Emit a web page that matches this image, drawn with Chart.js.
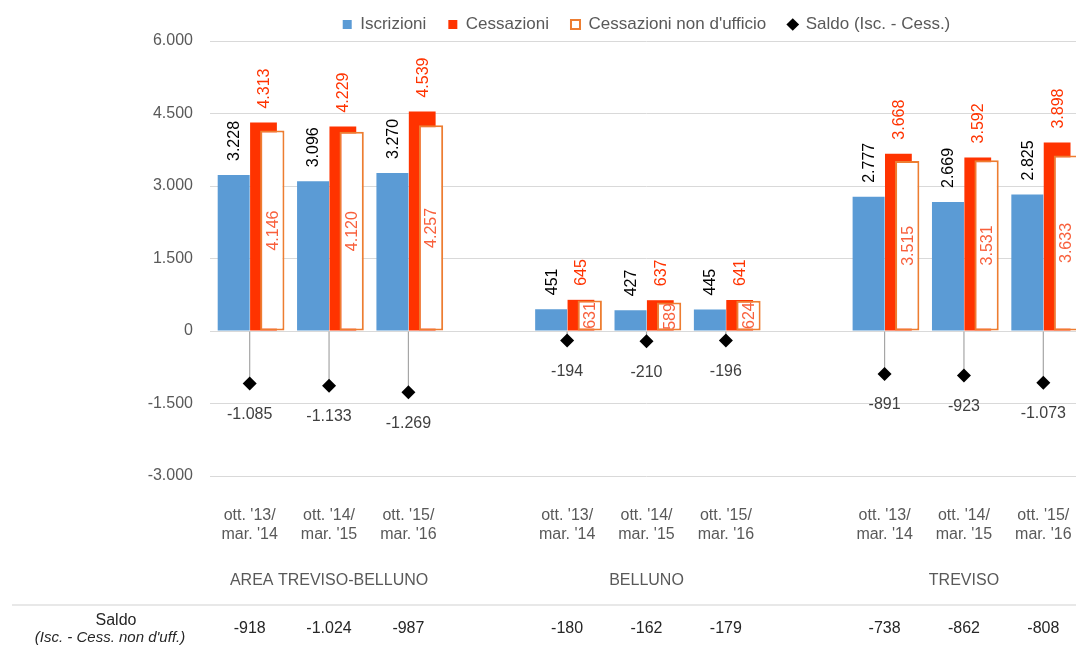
<!DOCTYPE html>
<html><head><meta charset="utf-8">
<script src="https://cdn.jsdelivr.net/npm/chart.js@4.4.1/dist/chart.umd.min.js"></script>
<style>
html,body{margin:0;padding:0;background:#fff;overflow:hidden;width:1076px;height:648px}
#wrap{position:relative;width:1090px;height:648px}
</style>
</head><body><div id="wrap"><canvas id="c" width="1090" height="648"></canvas></div>
<script>
// ---- data ----
const categories = [
  ["ott. '13/","mar. '14"],["ott. '14/","mar. '15"],["ott. '15/","mar. '16"], "",
  ["ott. '13/","mar. '14"],["ott. '14/","mar. '15"],["ott. '15/","mar. '16"], "",
  ["ott. '13/","mar. '14"],["ott. '14/","mar. '15"],["ott. '15/","mar. '16"]
];
const areas = ['AREA TREVISO-BELLUNO','BELLUNO','TREVISO'];
const iscrizioni  = [3228,3096,3270,null,451,427,445,null,2777,2669,2825];
const cessazioni  = [4313,4229,4539,null,645,637,641,null,3668,3592,3898];
const cessNonUff  = [4146,4120,4257,null,631,589,624,null,3515,3531,3633];
const saldo       = [-1085,-1133,-1269,null,-194,-210,-196,null,-891,-923,-1073];
const saldoNonUff = [-918,-1024,-987,null,-180,-162,-179,null,-738,-862,-808];
const yTicks = [-3000,-1500,0,1500,3000,4500,6000];

const FONT = "'Liberation Sans', Arial, sans-serif";
Chart.defaults.font.family = FONT;

function fmt(n){
  const s = Math.abs(n).toString().replace(/\B(?=(\d{3})+(?!\d))/g,'.');
  return (n<0?'-':'') + s;
}

const BLUE='#5b9bd5', RED='#ff3300', ORANGE='#ed7d31';

const labelPlugin = {
  id:'valueLabels',
  afterDatasetsDraw(chart){
    const ctx = chart.ctx;
    ctx.save();
    ctx.font = "16px " + FONT;
    [[0,'#000000'],[1,RED]].forEach(([di,col])=>{
      const meta = chart.getDatasetMeta(di);
      const vals = chart.data.datasets[di].data;
      meta.data.forEach((bar,i)=>{
        if(vals[i]==null) return;
        ctx.save();
        ctx.translate(bar.x+1, bar.y-14);
        ctx.rotate(-Math.PI/2);
        ctx.fillStyle = col; ctx.textAlign='left'; ctx.textBaseline='middle';
        ctx.fillText(fmt(vals[i]),0,0);
        ctx.restore();
      });
    });
    {
      const meta = chart.getDatasetMeta(2);
      const vals = chart.data.datasets[2].data;
      meta.data.forEach((bar,i)=>{
        if(vals[i]==null) return;
        ctx.save();
        ctx.translate(bar.x+1, (bar.y+bar.base)/2);
        ctx.rotate(-Math.PI/2);
        ctx.fillStyle = '#f8603c'; ctx.textAlign='center'; ctx.textBaseline='middle';
        ctx.fillText(fmt(vals[i]),0,0);
        ctx.restore();
      });
    }
    {
      const meta = chart.getDatasetMeta(3);
      const vals = chart.data.datasets[3].data;
      ctx.fillStyle = '#404040'; ctx.textAlign='center'; ctx.textBaseline='middle';
      meta.data.forEach((pt,i)=>{
        if(vals[i]==null) return;
        ctx.fillText(fmt(vals[i]), pt.x, pt.y+31);
      });
    }
    ctx.restore();
  },
  afterDraw(chart){
    const ctx = chart.ctx, xs = chart.scales.x;
    ctx.save();
    ctx.textAlign='center'; ctx.textBaseline='middle';
    // group labels: middle of each run of non-empty categories
    let runs=[], start=null;
    categories.forEach((c,i)=>{
      if(c!=='' && start===null) start=i;
      if((c==='' || i===categories.length-1) && start!==null){
        const end = c===''? i-1 : i; runs.push((start+end)/2); start=null;
      }
    });
    ctx.font = "16px " + FONT; ctx.fillStyle='#595959';
    runs.forEach((m,g)=>{ ctx.fillText(areas[g], xs.getPixelForValue(m), 581); });
    // table
    ctx.strokeStyle='#e8e8e8'; ctx.lineWidth=2;
    ctx.beginPath(); ctx.moveTo(12,605); ctx.lineTo(chart.width,605); ctx.stroke();
    ctx.fillStyle='#262626';
    ctx.fillText('Saldo',116,621);
    ctx.font = "italic 15px " + FONT;
    ctx.fillText("(Isc. - Cess. non d'uff.)",110,638);
    ctx.font = "16px " + FONT;
    saldoNonUff.forEach((v,i)=>{ if(v==null) return; ctx.fillText(fmt(v), xs.getPixelForValue(i), 629); });
    ctx.restore();
  }
};

new Chart(document.getElementById('c'), {
  type:'bar',
  data:{
    labels: categories,
    datasets:[
      {label:'Iscrizioni', data:iscrizioni, backgroundColor:BLUE, stack:'a', order:0,
       categoryPercentage:0.806, barPercentage:1.0},
      {label:'Cessazioni', data:cessazioni, backgroundColor:RED, stack:'b', order:2,
       categoryPercentage:0.696, barPercentage:0.97},
      {label:"Cessazioni non d'ufficio", data:cessNonUff, backgroundColor:'#ffffff', borderColor:ORANGE,
       borderWidth:2, borderSkipped:false, stack:'b', order:1,
       categoryPercentage:1.139, barPercentage:0.538},
      {type:'line', label:'Saldo (Isc. - Cess.)', data:saldo, showLine:false, pointStyle:'rectRot',
       pointRadius:7, pointHoverRadius:7, backgroundColor:'#000', borderColor:'#000', borderWidth:0, order:-1},
      {label:'_drop', data:saldo, grouped:false, maxBarThickness:1.2, backgroundColor:'#a6a6a6', order:10}
    ]
  },
  options:{
    responsive:false, animation:false, devicePixelRatio:1,
    layout:{padding:{top:-6,left:0,right:1,bottom:0}},
    plugins:{
      tooltip:{enabled:false},
      legend:{
        position:'top', fullSize:false, maxHeight:47,
        labels:{
          usePointStyle:true, boxWidth:9, boxHeight:9, padding:22,
          color:'#595959', font:{size:17, family:FONT},
          generateLabels(chart){
            return chart.data.datasets.map((d,i)=>({d,i})).filter(o=>o.d.label!=='_drop').map(({d,i})=>({
              text:d.label,
              fillStyle: d.backgroundColor,
              strokeStyle: d.borderColor || d.backgroundColor,
              lineWidth: d.borderWidth && d.type!=='line' ? 2 : 0,
              pointStyle: d.type==='line' ? 'rectRot' : 'rect',
              hidden:false, datasetIndex:i, fontColor:'#595959'
            }));
          }
        }
      }
    },
    scales:{
      x:{
        grid:{display:false, drawTicks:true, tickLength:30}, border:{display:false},
        ticks:{color:'#595959', font:{size:16}, padding:0, maxRotation:0, autoSkip:false},
        afterFit(s){ s.height = 172; }
      },
      y:{
        stacked:false, min:-3000, max:6000,
        afterBuildTicks(s){ s.ticks = yTicks.map(v=>({value:v})); },
        grid:{color:'#d9d9d9', lineWidth:1, drawTicks:false}, border:{display:false},
        ticks:{color:'#595959', font:{size:16}, padding:17, callback:(v)=>fmt(v)},
        afterFit(s){ s.width = 210; }
      }
    }
  },
  plugins:[labelPlugin]
});
</script>
</body></html>
